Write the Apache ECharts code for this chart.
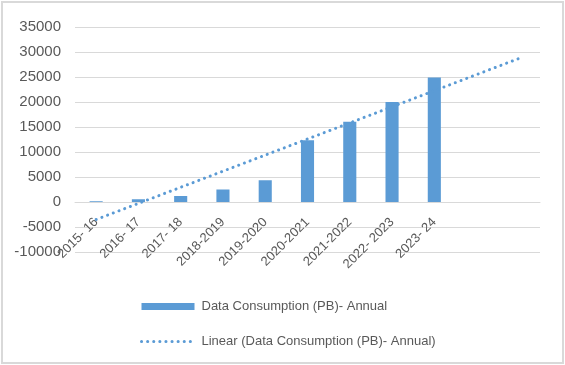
<!DOCTYPE html>
<html>
<head>
<meta charset="utf-8">
<script src="https://cdn.jsdelivr.net/npm/echarts@6/dist/echarts.min.js"></script>
<style>html,body{margin:0;padding:0;background:#fff}#c{width:565px;height:365px}</style>
</head>
<body>
<div id="c"></div>
<script>
// Categories (last two are the trendline's forward-forecast periods, unlabeled)
var categories = ['2015- 16', '2016- 17', '2017- 18', '2018-2019', '2019-2020', '2020-2021', '2021-2022', '2022- 2023', '2023- 24', '', ''];
// Data Consumption (PB) - Annual
var consumption = [150, 550, 1200, 2500, 4350, 12350, 16050, 20000, 24900];
// Linear trendline endpoints (index 0 and index 10)
var trendStart = -3500;
var trendEnd = 28700;
var yTicks = { min: -10000, max: 35000, interval: 5000 };
var barName = 'Data Consumption (PB)- Annual';
var lineName = 'Linear (Data Consumption (PB)- Annual)';

var trend = categories.map(function (c, i) {
  if (i === 0) return trendStart;
  if (i === categories.length - 1) return trendEnd;
  return null;
});

var chart = echarts.init(document.getElementById('c'), null, { renderer: 'canvas' });
var font = 'Liberation Sans, Arial, sans-serif';
var dotted = { color: '#5b9bd5', width: 3, type: [0.1, 6], cap: 'round' };
chart.setOption({
  animation: false,
  backgroundColor: '#fff',
  textStyle: { fontFamily: font },
  grid: { left: 75, right: 25, top: 27, bottom: 113, containLabel: false },
  graphic: [{
    type: 'rect',
    shape: { x: 2, y: 2, width: 561, height: 361 },
    style: { fill: 'none', stroke: '#d9d9d9', lineWidth: 2 },
    silent: true, z: 100
  }],
  legend: {
    orient: 'vertical',
    left: 140, top: 300,
    padding: 0,
    itemWidth: 53, itemHeight: 7,
    itemGap: 22,
    textStyle: { fontFamily: font, fontSize: 13, color: '#595959', padding: [0, 0, 0, 2] },
    data: [
      { name: barName, icon: 'rect' },
      { name: lineName, itemStyle: { opacity: 0 }, lineStyle: dotted }
    ]
  },
  xAxis: {
    type: 'category',
    data: categories,
    boundaryGap: true,
    offset: -50,
    axisLine: { show: true, onZero: false, lineStyle: { color: '#d9d9d9', width: 1 } },
    axisTick: { show: false },
    axisLabel: { rotate: 45, margin: 18, interval: 0, fontFamily: font, fontSize: 13, color: '#595959' },
    splitLine: { show: false }
  },
  yAxis: {
    type: 'value',
    min: yTicks.min, max: yTicks.max, interval: yTicks.interval,
    axisLine: { show: false },
    axisTick: { show: false },
    axisLabel: { margin: 14, fontFamily: font, fontSize: 15, color: '#595959', formatter: function (v) { return String(v); } },
    splitLine: { lineStyle: { color: '#d9d9d9', width: 1 } }
  },
  series: [
    {
      name: barName,
      type: 'bar',
      data: consumption,
      barWidth: '31%',
      itemStyle: { color: '#5b9bd5' }
    },
    {
      name: lineName,
      type: 'line',
      data: trend,
      connectNulls: true,
      symbol: 'none',
      lineStyle: dotted,
      itemStyle: { color: '#5b9bd5' },
      z: 3
    }
  ]
});
</script>
</body>
</html>
